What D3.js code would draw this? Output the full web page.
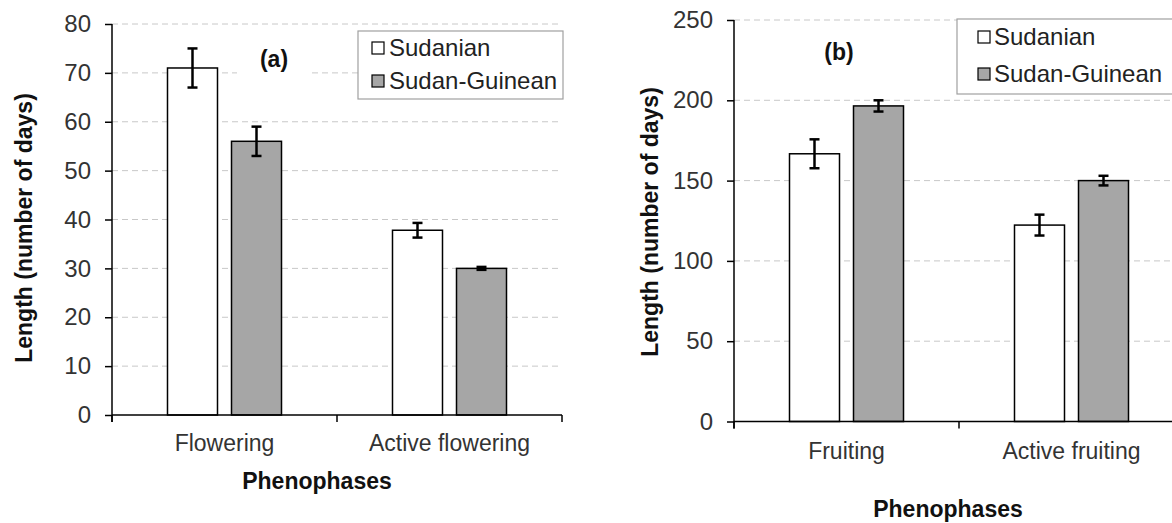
<!DOCTYPE html>
<html><head><meta charset="utf-8">
<script src="https://cdn.jsdelivr.net/npm/d3@7"></script>
<style>
html,body{margin:0;padding:0;background:#fff;}
svg{display:block;font-family:"Liberation Sans",Arial,sans-serif;}
</style></head>
<body>
<svg id="chart" width="1172" height="523"></svg>
<script>
// ---- data ----
const seriesNames = ["Sudanian", "Sudan-Guinean"];
const seriesFills = ["#ffffff", "#a6a6a6"];

const categoriesA = ["Flowering", "Active flowering"];
const sudanianA = [71, 37.8];
const sudanianErrA = [4, 1.5];
const guineanA = [56, 30];
const guineanErrA = [3, 0.3];
const ticksA = [0, 10, 20, 30, 40, 50, 60, 70, 80];

const categoriesB = ["Fruiting", "Active fruiting"];
const sudanianB = [166.7, 122.3];
const sudanianErrB = [9, 6.5];
const guineanB = [196.5, 150];
const guineanErrB = [3.5, 3];
const ticksB = [0, 50, 100, 150, 200, 250];

const svg = d3.select("#chart");

function drawPanel(cfg) {
  const g = svg.append("g");
  const x0 = d3.scaleBand().domain(cfg.categories).range([cfg.left, cfg.right]).padding(0);
  const bw = x0.bandwidth();
  const groupW = bw * 0.5067;
  const x1 = d3.scaleBand().domain(seriesNames)
    .range([bw / 2 - groupW / 2, bw / 2 + groupW / 2]).paddingInner(0.21875).paddingOuter(0);
  const y = d3.scaleLinear().domain([0, cfg.ticks[cfg.ticks.length - 1]]).range([cfg.bottom, cfg.top]);

  // gridlines
  g.append("g").selectAll("line").data(cfg.ticks.filter(t => t > 0)).join("line")
    .attr("x1", cfg.left).attr("x2", cfg.right)
    .attr("y1", d => y(d)).attr("y2", d => y(d))
    .attr("stroke", "#c8c8c8").attr("stroke-width", 1).attr("stroke-dasharray", "6,4");

  // label box (white background)
  if (cfg.labelBox) {
    g.append("rect").attr("x", cfg.labelBox[0]).attr("y", cfg.labelBox[1])
      .attr("width", cfg.labelBox[2]).attr("height", cfg.labelBox[3]).attr("fill", "#fff");
  }

  // bars
  const rows = cfg.categories.map((c, i) => ({
    cat: c,
    vals: [
      { s: seriesNames[0], v: cfg.s1[i], e: cfg.e1[i], fill: seriesFills[0] },
      { s: seriesNames[1], v: cfg.s2[i], e: cfg.e2[i], fill: seriesFills[1] }
    ]
  }));
  const grp = g.append("g").selectAll("g").data(rows).join("g")
    .attr("transform", d => `translate(${x0(d.cat)},0)`);
  grp.selectAll("rect").data(d => d.vals).join("rect")
    .attr("x", d => x1(d.s)).attr("width", x1.bandwidth())
    .attr("y", d => y(d.v)).attr("height", d => y(0) - y(d.v))
    .attr("fill", d => d.fill).attr("stroke", "#000").attr("stroke-width", 1.5);
  // error bars
  const eb = grp.selectAll("g.eb").data(d => d.vals).join("g").attr("class", "eb");
  const cx = d => x1(d.s) + x1.bandwidth() / 2;
  eb.append("line").attr("x1", cx).attr("x2", cx)
    .attr("y1", d => y(d.v + d.e)).attr("y2", d => y(d.v - d.e))
    .attr("stroke", "#000").attr("stroke-width", 2.5);
  eb.append("line").attr("x1", d => cx(d) - 5).attr("x2", d => cx(d) + 5)
    .attr("y1", d => y(d.v + d.e)).attr("y2", d => y(d.v + d.e))
    .attr("stroke", "#000").attr("stroke-width", 2.5);
  eb.append("line").attr("x1", d => cx(d) - 5).attr("x2", d => cx(d) + 5)
    .attr("y1", d => y(d.v - d.e)).attr("y2", d => y(d.v - d.e))
    .attr("stroke", "#000").attr("stroke-width", 2.5);

  // y axis
  const yAxis = d3.axisLeft(y).tickValues(cfg.ticks).tickSize(7).tickPadding(14).tickFormat(d3.format("d"));
  const ya = g.append("g").attr("transform", `translate(${cfg.left},0)`).call(yAxis);
  ya.select(".domain").attr("stroke", "#000").attr("stroke-width", 1.5)
    .attr("d", `M0,${cfg.top}V${cfg.bottom + 7}`);
  ya.selectAll(".tick line").attr("stroke", "#000").attr("stroke-width", 1.5);
  ya.selectAll(".tick text").attr("font-size", 24).attr("fill", "#333")
    .attr("font-family", "Liberation Sans, Arial, sans-serif");

  // x axis
  const boundaries = cfg.categories.map(c => x0(c)).concat([cfg.right]);
  g.append("line").attr("x1", cfg.left).attr("x2", cfg.right)
    .attr("y1", y(0)).attr("y2", y(0)).attr("stroke", "#000").attr("stroke-width", 1.5);
  g.append("g").selectAll("line").data(boundaries).join("line")
    .attr("x1", d => d).attr("x2", d => d).attr("y1", y(0)).attr("y2", y(0) + 7)
    .attr("stroke", "#000").attr("stroke-width", 1.5);
  g.append("g").selectAll("text").data(cfg.categories).join("text")
    .attr("x", d => x0(d) + bw / 2).attr("y", cfg.catY)
    .attr("text-anchor", "middle").attr("font-size", 23).attr("fill", "#333").text(d => d);

  // titles
  g.append("text").attr("x", cfg.xTitle[0]).attr("y", cfg.xTitle[1]).attr("text-anchor", "middle")
    .attr("font-size", 23).attr("font-weight", "bold").attr("fill", "#111").text("Phenophases");
  g.append("text").attr("transform", `translate(${cfg.yTitle[0]},${cfg.yTitle[1]}) rotate(-90)`)
    .attr("text-anchor", "middle").attr("dominant-baseline", "central")
    .attr("font-size", 23).attr("font-weight", "bold").attr("fill", "#111").text("Length (number of days)");
  g.append("text").attr("x", cfg.panelLabel[0]).attr("y", cfg.panelLabel[1]).attr("text-anchor", "middle")
    .attr("font-size", 23).attr("font-weight", "bold").attr("fill", "#111").text(cfg.panelText);

  // legend
  const L = cfg.legend;
  const lg = g.append("g");
  lg.append("rect").attr("x", L.x).attr("y", L.y).attr("width", L.w).attr("height", L.h)
    .attr("fill", "#fff").attr("stroke", "#a0a0a0").attr("stroke-width", 1.2);
  seriesNames.forEach((s, i) => {
    lg.append("rect").attr("x", L.sqX).attr("y", L.base[i] - 14).attr("width", 12).attr("height", 12)
      .attr("fill", seriesFills[i]).attr("stroke", "#000").attr("stroke-width", 1.2);
    lg.append("text").attr("x", L.textX).attr("y", L.base[i]).attr("font-size", 24)
      .attr("fill", "#222").text(s);
  });
}

drawPanel({
  categories: categoriesA, s1: sudanianA, e1: sudanianErrA, s2: guineanA, e2: guineanErrA,
  ticks: ticksA, left: 112, right: 562, top: 24, bottom: 415,
  catY: 451, xTitle: [317, 489], yTitle: [24, 228],
  panelLabel: [274, 67], panelText: "(a)", labelBox: [237, 32, 74, 66],
  legend: { x: 358, y: 31, w: 205, h: 68, sqX: 372, textX: 389, base: [56, 89] }
});

drawPanel({
  categories: categoriesB, s1: sudanianB, e1: sudanianErrB, s2: guineanB, e2: guineanErrB,
  ticks: ticksB, left: 734, right: 1184, top: 20, bottom: 421.5,
  catY: 459, xTitle: [948, 517], yTitle: [650, 222],
  panelLabel: [839, 60], panelText: "(b)", labelBox: null,
  legend: { x: 957, y: 19, w: 240, h: 75, sqX: 978, textX: 994, base: [45, 82] }
});
</script>
</body></html>
